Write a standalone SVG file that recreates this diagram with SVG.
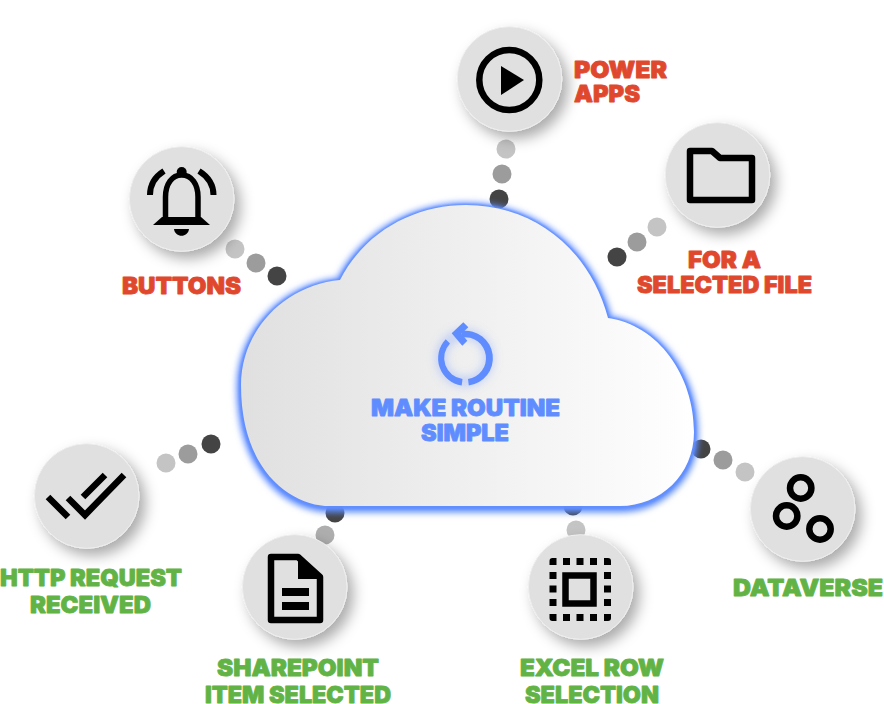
<svg xmlns="http://www.w3.org/2000/svg" width="884" height="704" viewBox="0 0 884 704">
<style>
text{font-family:"Inter","Liberation Sans",sans-serif;font-weight:900;font-size:23px;text-anchor:start;stroke-width:.8;stroke-linejoin:round}
.r{fill:#e0482d;stroke:#e0482d}.g{fill:#62b345;stroke:#62b345}.b{fill:#5f8dff;stroke:#5f8dff}
.ic{fill:#5f8dff}
.disc{fill:#e0e0e0;stroke:#eeeeee;stroke-width:1;filter:url(#sh)}
.d1{fill:#c4c4c4}.d2{fill:#9c9c9c}.d3{fill:#444444}
.ln{fill:none;stroke:#000;stroke-width:6.5}
</style>
<defs>
<filter id="sh" x="-40%" y="-40%" width="190%" height="190%"><feDropShadow dx="6" dy="7" stdDeviation="7" flood-color="#000" flood-opacity=".33"/></filter>
<filter id="gl" x="-10%" y="-10%" width="120%" height="120%"><feGaussianBlur stdDeviation="3.2"/></filter>
<filter id="ge" x="-10%" y="-10%" width="120%" height="120%"><feGaussianBlur stdDeviation="1"/></filter>
<filter id="gi" x="-50%" y="-50%" width="200%" height="200%"><feGaussianBlur stdDeviation="5"/></filter>
<linearGradient id="cf" x1="0" x2="1" y1="0" y2="0"><stop offset="0" stop-color="#e0e0e0"/><stop offset="1" stop-color="#ffffff"/></linearGradient>
<path id="cl" d="M340 280C365 231 415 205 466 205C535 205 590 250 608 318C658 325 694 375 694 432C694 475 660 506 620 506L330 506C292 506 241 472 241 385C241 330 285 285 340 280Z"/>
</defs>
<g id="connectors">
<circle class="d1" cx="506" cy="149" r="9.5"/><circle class="d2" cx="502" cy="174" r="9.5"/><circle class="d3" cx="499" cy="199" r="9.5"/>
<circle class="d1" cx="657" cy="227" r="9.5"/><circle class="d2" cx="637" cy="242" r="9.5"/><circle class="d3" cx="617" cy="257" r="9.5"/>
<circle class="d1" cx="235" cy="249" r="9.5"/><circle class="d2" cx="256" cy="263" r="9.5"/><circle class="d3" cx="277" cy="276" r="9.5"/>
<circle class="d1" cx="166" cy="463" r="9.5"/><circle class="d2" cx="188" cy="454" r="9.5"/><circle class="d3" cx="211" cy="444" r="9.5"/>
<circle class="d3" cx="335" cy="513" r="9.5"/><circle fill="#aeaeae" cx="325" cy="535" r="9.5"/>
<circle class="d3" cx="573" cy="506" r="9.5"/><circle class="d1" cx="576" cy="530" r="9.5"/>
<circle class="d3" cx="701" cy="449" r="9.5"/><circle class="d2" cx="723" cy="460" r="9.5"/><circle class="d1" cx="745" cy="472" r="9.5"/>
</g>
<g id="cloud">
<use href="#cl" fill="none" stroke="#5f8dff" stroke-width="9" filter="url(#gl)" transform="translate(0 2)"/>
<use href="#cl" fill="none" stroke="#5f8dff" stroke-width="4" filter="url(#ge)" transform="translate(0 1)"/>
<use href="#cl" fill="url(#cf)"/>
<circle cx="465" cy="358" r="24" fill="none" stroke="#5f8dff" stroke-opacity=".35" stroke-width="9" filter="url(#gi)"/>
<path class="ic" d="M445.700 339.300A27.500 27.500 0 0 0 461.700 385.500L462.500 378.900A21 21 0 0 1 450 343.500Z"/>
<path class="ic" d="M468.800 385.500A27.500 27.500 0 0 0 462 330.900L462 337.400A21 21 0 0 1 468 379Z"/>
<path class="ic" d="M451.700 333.300L463.300 322.300L468.300 327.300L461.500 333.800L467.300 340.700L462.300 345.700Z"/>
<text class="b" x="371" y="416" textLength="189" lengthAdjust="spacingAndGlyphs">MAKE ROUTINE</text>
<text class="b" x="421" y="441" textLength="88" lengthAdjust="spacingAndGlyphs">SIMPLE</text>
</g>
<g id="power-apps">
<circle class="disc" cx="509.500" cy="79" r="52.300"/>
<circle class="ln" cx="509.300" cy="80" r="30"/>
<path d="M501 66L524 80L501 95Z"/>
<text class="r" x="574" y="78" textLength="93" lengthAdjust="spacingAndGlyphs">POWER</text>
<text class="r" x="574" y="102" textLength="66" lengthAdjust="spacingAndGlyphs">APPS</text>
</g>
<g id="for-a-selected-file">
<circle class="disc" cx="717.500" cy="175" r="52.300"/>
<path class="ln" stroke-linejoin="round" d="M690 151H712L720 158H752V200H690Z"/>
<text class="r" x="688" y="268" textLength="73" lengthAdjust="spacingAndGlyphs">FOR A</text>
<text class="r" x="637" y="293" textLength="175" lengthAdjust="spacingAndGlyphs">SELECTED FILE</text>
</g>
<g id="buttons">
<circle class="disc" cx="181.700" cy="199" r="52.300"/>
<circle cx="181.700" cy="172" r="5"/>
<path class="ln" style="stroke-width:5.500" d="M165.500 222V197C165.500 184 172 175 181.700 175C191.500 175 198 184 198 197V222"/>
<path d="M153 225L162 217H201L210 225Z"/>
<path d="M174 229H189C188 238 175 238 174 229Z"/>
<path class="ln" style="stroke-width:6" d="M150 195C150 184 156 176 164 171M213.500 195C213.500 184 207 176 199 171"/>
<text class="r" x="122" y="294" textLength="119" lengthAdjust="spacingAndGlyphs">BUTTONS</text>
</g>
<g id="http-request-received">
<circle class="disc" cx="86.700" cy="496" r="52.300"/>
<path class="ln" d="M48 497L68 517M68 498L85 515L124 475M83 497L105 475"/>
<text class="g" x="0" y="586" textLength="182" lengthAdjust="spacingAndGlyphs">HTTP REQUEST</text>
<text class="g" x="30" y="613" textLength="121" lengthAdjust="spacingAndGlyphs">RECEIVED</text>
</g>
<g id="sharepoint-item-selected">
<circle class="disc" cx="294.700" cy="587" r="52.300"/>
<path class="ln" stroke-linejoin="round" d="M271 557H298L320 577V620H271Z"/>
<path d="M298 555L323 577V579H298Z"/>
<rect x="282" y="588" width="27" height="8"/><rect x="282" y="602" width="27" height="8"/>
<text class="g" x="217" y="676" textLength="162" lengthAdjust="spacingAndGlyphs">SHAREPOINT</text>
<text class="g" x="205" y="702.500" textLength="186" lengthAdjust="spacingAndGlyphs">ITEM SELECTED</text>
</g>
<g id="excel-row-selection">
<circle class="disc" cx="580.700" cy="587" r="52.300"/>
<rect class="ln" x="565.500" y="575.500" width="28" height="28"/>
<path d="M563 558h7v7h-7zM576.500 558h7v7h-7zM590 558h7v7h-7zM563 614h7v7h-7zM576.500 614h7v7h-7zM590 614h7v7h-7zM549.500 572h7v7h-7zM549.500 585.500h7v7h-7zM549.500 599h7v7h-7zM604 572h7v7h-7zM604 585.500h7v7h-7zM604 599h7v7h-7zM549.500 565V561Q549.500 558 552.500 558H556.500V565ZM604 558H608Q611 558 611 561V565H604ZM549.500 614H556.500V621H552.500Q549.500 621 549.500 618ZM604 614H611V618Q611 621 608 621H604Z"/>
<text class="g" x="520" y="676" textLength="144" lengthAdjust="spacingAndGlyphs">EXCEL ROW</text>
<text class="g" x="525" y="702.500" textLength="134" lengthAdjust="spacingAndGlyphs">SELECTION</text>
</g>
<g id="dataverse">
<circle class="disc" cx="802.700" cy="509" r="52.300"/>
<circle class="ln" cx="800.700" cy="488" r="10.700"/>
<circle class="ln" cx="786.700" cy="516" r="10.700"/>
<circle class="ln" cx="820" cy="529" r="10.700"/>
<text class="g" x="733" y="596" textLength="150" lengthAdjust="spacingAndGlyphs">DATAVERSE</text>
</g>
</svg>
